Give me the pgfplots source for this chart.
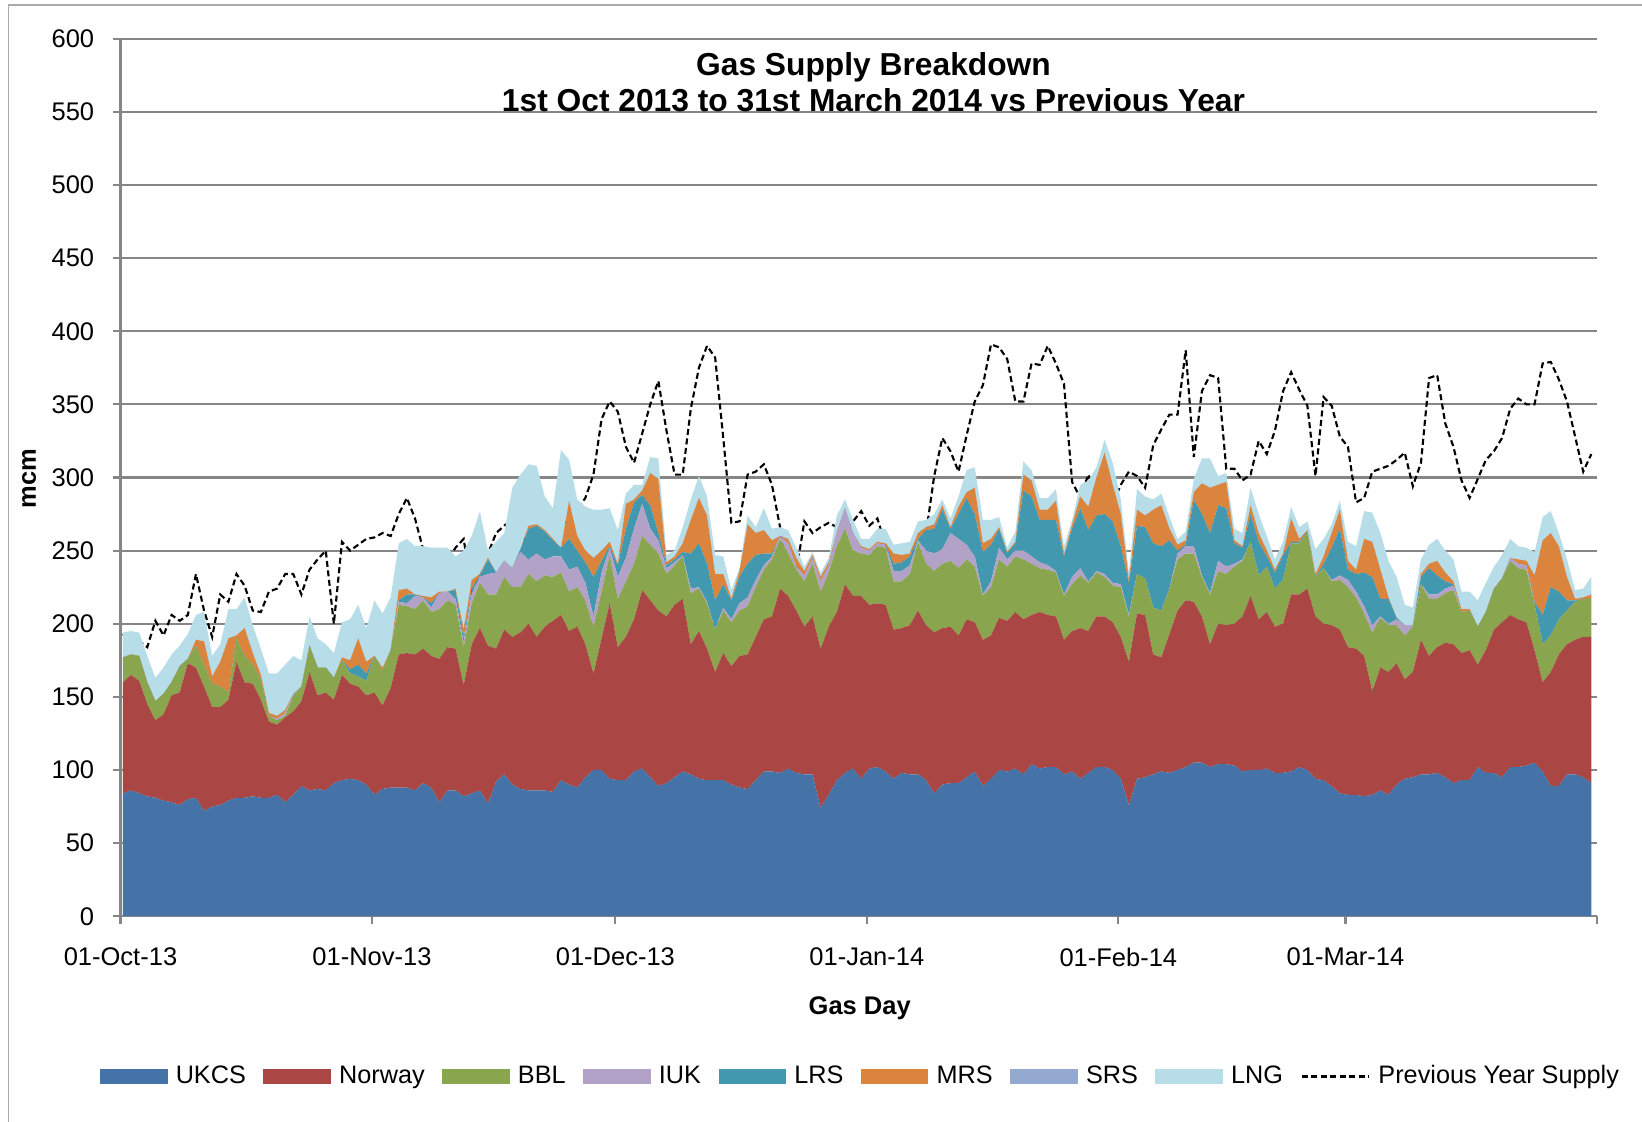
\documentclass[border=0pt]{standalone}
\usepackage{fontspec}
\setmainfont{Liberation Sans}
\usepackage{pgfplots}
\usepackage{pgfplotstable}
\pgfplotsset{compat=1.18}
\definecolor{cUKCS}{HTML}{4572A7}
\definecolor{cNOR}{HTML}{AA4643}
\definecolor{cBBL}{HTML}{89A54E}
\definecolor{cIUK}{HTML}{B3A2C7}
\definecolor{cLRS}{HTML}{4198AF}
\definecolor{cMRS}{HTML}{DB843D}
\definecolor{cSRS}{HTML}{93A9CF}
\definecolor{cLNG}{HTML}{B7DEE8}
\definecolor{cgrid}{HTML}{868686}
\pgfplotsset{
  arealeg/.style={legend image code/.code={\fill[##1] (0pt,-2.9pt) rectangle (27pt,2.9pt);}},
  lineleg/.style={legend image code/.code={\draw[##1] (0pt,0pt) -- (27pt,0pt);}},
}

\pgfplotstableread{
d ukcs nor bbl iuk lrs mrs srs lng prev
0 84 76 17 0 0 0 0 17 193
1 86 79 14 0 0 0 0 16 187
2 84 77 17 0 0 0 0 16 188
3 82 63 15 0 0 0 0 18 184
4 81 53 13 0 0 0 0 16 202
5 79 59 14 0 0 0 0 18 192
6 78 73 9 0 0 0 0 19 206
7 76 77 18 0 0 0 0 14 202
8 80 93 3 0 0 0 0 17 206
9 81 89 15 0 0 4 0 17 234
10 72 85 15 0 0 16 0 20 209
11 75 68 16 0 0 5 0 14 191
12 76 67 14 0 0 17 0 12 220
13 79 69 5 0 0 37 0 20 215
14 81 93 16 0 0 2 0 18 234
15 81 79 18 0 0 19 0 21 226
16 82 77 13 0 0 8 0 19 209
17 81 67 14 0 0 3 0 18 208
18 81 52 4 0 0 2 0 27 222
19 83 48 3 1 0 2 0 29 224
20 78 58 1 2 0 2 0 31 234
21 83 57 11 1 0 0 0 26 234
22 89 58 10 0 0 0 0 18 220
23 86 81 18 0 0 0 0 20 237
24 87 64 19 0 0 0 0 20 244
25 86 67 17 0 0 0 0 16 250
26 91 57 15 0 0 0 0 17 200
27 93 72 10 0 0 2 0 24 256
28 94 65 7 0 3 6 0 28 250
29 93 64 7 0 8 18 0 23 254
30 90 61 10 0 5 8 0 23 258
31 83 70 25 0 0 0 0 38 259
32 87 57 24 0 0 2 0 37 262
33 88 68 26 0 0 0 0 36 260
34 88 91 34 2 1 7 0 32 275
35 88 92 32 2 6 4 0 34 286
36 86 93 31 9 1 0 0 33 272
37 91 92 33 2 0 1 0 34 251
38 88 90 30 3 3 4 0 34 244
39 78 98 34 11 0 1 0 30 241
40 86 98 32 6 0 0 0 30 243
41 86 97 30 4 6 1 0 22 252
42 82 76 26 3 3 6 0 54 258
43 84 102 28 7 3 6 0 30 222
44 86 111 31 4 1 1 0 43 235
45 77 108 35 14 10 1 0 5 248
46 92 91 37 15 0 0 0 21 262
47 97 99 36 11 0 0 0 19 267
48 90 101 34 13 0 0 0 55 271
49 87 107 31 24 2 0 0 51 273
50 86 114 34 10 21 2 0 42 241
51 86 105 38 19 19 1 0 40 251
52 86 112 35 11 19 1 0 23 255
53 85 117 30 14 11 1 0 21 270
54 93 113 29 11 6 0 0 67 278
55 90 105 27 15 21 26 0 28 259
56 88 110 27 14 11 10 0 25 278
57 95 91 30 12 14 8 0 30 286
58 100 66 32 7 27 13 0 33 302
59 100 90 32 13 8 7 0 28 340
60 94 120 33 5 1 3 0 23 352
61 93 91 33 15 8 1 0 23 345
62 93 98 38 16 20 17 0 7 321
63 99 104 38 24 18 2 0 10 310
64 101 122 37 22 6 3 0 4 330
65 95 121 38 11 16 22 0 11 350
66 89 120 39 9 5 37 0 14 366
67 91 114 29 4 2 2 0 5 332
68 95 118 27 2 2 2 0 4 302
69 99 118 29 1 2 6 0 11 302
70 97 89 35 3 24 23 0 14 347
71 94 101 29 1 30 31 0 15 375
72 93 90 31 1 26 33 0 13 390
73 93 74 29 0 20 18 0 13 382
74 93 87 29 2 16 7 0 12 327
75 90 81 30 2 13 1 0 6 269
76 88 90 31 5 18 4 0 2 270
77 87 92 33 6 23 27 0 6 302
78 93 98 34 5 17 15 0 4 304
79 99 104 34 3 8 16 0 15 309
80 99 106 39 2 2 9 0 8 295
81 98 126 34 2 0 0 0 6 266
82 101 118 29 7 0 3 0 6 232
83 98 111 28 2 0 6 0 7 236
84 97 101 31 4 0 3 0 3 270
85 97 108 36 4 0 2 0 2 262
86 74 109 39 7 0 3 0 3 266
87 83 115 37 5 0 2 0 3 269
88 93 115 45 9 0 1 0 11 266
89 98 129 38 14 0 0 0 6 263
90 101 118 31 12 0 0 0 9 270
91 94 125 29 4 0 1 0 5 277
92 101 112 34 3 0 1 0 7 267
93 102 112 39 2 0 1 0 9 272
94 99 114 39 2 0 1 0 10 254
95 94 102 33 7 5 7 0 6 244
96 98 99 32 7 6 5 0 8 243
97 97 102 35 6 6 2 0 8 249
98 97 112 47 1 1 4 0 8 266
99 93 106 42 9 14 2 0 5 262
100 84 110 42 12 17 3 0 7 301
101 90 107 44 10 27 3 0 4 327
102 91 107 45 19 3 1 0 6 318
103 91 101 46 20 17 5 0 7 304
104 95 108 41 10 32 4 0 15 329
105 99 102 38 7 29 18 0 14 352
106 89 100 30 1 29 6 0 16 363
107 94 98 33 4 25 4 0 13 391
108 100 104 40 8 13 1 0 7 389
109 99 103 37 5 4 1 0 3 381
110 101 107 38 4 5 1 0 7 352
111 97 106 41 6 41 11 0 9 352
112 104 102 35 5 41 11 0 7 378
113 101 107 30 4 29 7 0 8 377
114 102 104 31 3 31 7 0 8 390
115 102 103 30 1 35 13 0 8 378
116 97 92 30 1 26 1 0 6 364
117 99 96 32 5 33 3 0 3 297
118 94 103 36 5 41 8 0 8 286
119 98 97 33 1 35 16 0 18 302
120 102 103 30 1 38 26 0 7 283
121 102 103 27 2 41 42 0 9 285
122 100 101 25 2 42 25 0 15 282
123 94 97 34 2 26 22 0 10 295
124 76 98 31 1 22 2 0 5 304
125 94 113 27 0 33 11 0 14 301
126 95 111 25 0 35 8 0 13 293
127 97 82 32 0 44 23 0 7 322
128 99 78 32 0 44 28 0 8 333
129 98 95 31 0 33 8 0 8 343
130 100 109 35 4 2 4 0 4 343
131 102 114 32 5 1 3 0 6 387
132 105 110 33 5 32 5 0 9 314
133 105 100 27 1 42 21 0 17 359
134 102 84 34 1 41 31 0 20 370
135 104 96 36 7 38 14 0 6 368
136 104 95 35 5 40 18 0 6 306
137 103 97 39 2 14 2 0 8 306
138 99 106 38 1 8 1 0 9 298
139 100 119 37 0 19 6 0 12 302
140 100 103 30 0 23 6 0 13 325
141 101 107 31 0 7 4 0 10 316
142 98 100 26 0 11 2 0 7 332
143 98 102 30 0 17 1 0 8 359
144 99 121 35 0 1 16 0 8 372
145 102 118 35 0 1 2 0 8 360
146 100 124 38 0 1 1 0 6 349
147 94 111 27 0 0 2 0 17 301
148 93 107 38 0 3 5 0 12 355
149 89 110 30 1 22 10 0 6 349
150 84 112 34 3 32 13 0 6 328
151 83 101 41 5 7 6 0 13 321
152 83 100 35 4 12 3 0 16 283
153 82 96 29 5 23 23 0 19 286
154 83 71 40 5 33 24 0 20 304
155 86 84 34 1 12 20 0 25 306
156 83 84 32 1 17 1 0 25 308
157 90 83 26 4 1 0 0 28 312
158 94 68 30 7 0 0 0 14 317
159 95 72 31 1 0 0 0 12 294
160 97 92 38 0 5 2 0 10 310
161 97 81 39 3 18 3 0 13 368
162 98 86 33 3 13 10 0 15 370
163 95 92 34 3 5 6 0 15 337
164 91 95 37 3 1 2 0 15 321
165 93 87 28 0 0 2 0 12 298
166 93 89 27 0 0 1 0 12 286
167 102 70 26 0 0 0 0 18 299
168 98 84 26 0 0 0 0 20 312
169 98 98 28 0 0 0 0 15 318
170 95 106 30 0 0 0 0 16 327
171 102 104 37 2 0 0 0 13 347
172 102 101 35 3 0 3 0 9 354
173 103 98 36 3 0 3 0 9 350
174 105 77 31 0 2 18 0 16 350
175 99 61 26 0 20 51 0 16 378
176 89 78 25 0 33 37 0 15 379
177 89 90 24 0 19 31 0 9 367
178 97 89 23 0 7 16 0 12 352
179 97 92 26 0 1 1 0 6 328
180 95 96 26 0 0 1 0 6 304
181 91 100 26 0 0 3 0 12 316
}\gasdata

\begin{document}
\begin{tikzpicture}[x=1pt,y=1pt]
\useasboundingbox (0,0) rectangle (656.8,448.8);
\draw[cgrid!70, line width=0.6pt] (3.4,-5) -- (3.4,446.7) -- (700,446.7);
\begin{axis}[
  at={(48.2pt,82.3pt)}, anchor=south west,
  scale only axis, width=590.6pt, height=351pt,
  xmin=0, xmax=182, ymin=0, ymax=600,
  stack plots=y,
  ytick={0,50,...,600},
  xtick={0,31,61,92,123,151,182},
  xticklabels={01-Oct-13,01-Nov-13,01-Dec-13,01-Jan-14,01-Feb-14,01-Mar-14,{}},
  ymajorgrids, grid style={cgrid, line width=0.85pt},
  axis x line*=bottom, axis y line*=left,
  axis line style={cgrid, line width=0.85pt},
  tick style={cgrid, line width=0.85pt},
  tick align=outside, major tick length=3pt,
  ticklabel style={font=\fontsize{10.2}{12}\selectfont, text=black},
  /pgf/number format/assume math mode=true,
  yticklabel style={anchor=east, xshift=-4pt},
  xticklabel style={anchor=north, yshift=-6pt},
  legend columns=-1,
  legend style={draw=none, fill=none, at={(axis description cs:0,0)}, anchor=west,
     xshift=-8.4pt, yshift=-64.1pt, font=\fontsize{10.1}{12}\selectfont, inner sep=0pt,
     /tikz/every odd column/.append style={column sep=1.3pt},
     /tikz/every even column/.append style={column sep=5pt}},
  arealeg,
]
\addplot[fill=cUKCS, draw=none] table[x expr=\thisrow{d}+0.3, y=ukcs] {\gasdata} \closedcycle;
\addlegendentry{UKCS}
\addplot[fill=cNOR, draw=none] table[x expr=\thisrow{d}+0.3, y=nor] {\gasdata} \closedcycle;
\addlegendentry{Norway}
\addplot[fill=cBBL, draw=none] table[x expr=\thisrow{d}+0.3, y=bbl] {\gasdata} \closedcycle;
\addlegendentry{BBL}
\addplot[fill=cIUK, draw=none] table[x expr=\thisrow{d}+0.3, y=iuk] {\gasdata} \closedcycle;
\addlegendentry{IUK}
\addplot[fill=cLRS, draw=none] table[x expr=\thisrow{d}+0.3, y=lrs] {\gasdata} \closedcycle;
\addlegendentry{LRS}
\addplot[fill=cMRS, draw=none] table[x expr=\thisrow{d}+0.3, y=mrs] {\gasdata} \closedcycle;
\addlegendentry{MRS}
\addplot[fill=cSRS, draw=none] table[x expr=\thisrow{d}+0.3, y=srs] {\gasdata} \closedcycle;
\addlegendentry{SRS}
\addplot[fill=cLNG, draw=none] table[x expr=\thisrow{d}+0.3, y=lng] {\gasdata} \closedcycle;
\addlegendentry{LNG}
\addplot[stack plots=false, black, line width=0.85pt, dash pattern=on 2.4pt off 1.4pt, lineleg]
   table[x expr=\thisrow{d}+0.3, y=prev] {\gasdata};
\addlegendentry{Previous Year Supply}
\end{axis}
\node[font=\bfseries\fontsize{12.7}{14.2}\selectfont, anchor=base] at (349.4,418.5) {Gas Supply Breakdown};
\node[font=\bfseries\fontsize{12.7}{14.2}\selectfont, anchor=base] at (349.4,404.3) {1st Oct 2013 to 31st March 2014 vs Previous Year};
\node[font=\bfseries\fontsize{10.2}{12}\selectfont, rotate=90] at (11.7,257.4) {mcm};
\node[font=\bfseries\fontsize{10.2}{12}\selectfont] at (343.9,45.4) {Gas Day};
\end{tikzpicture}
\end{document}
